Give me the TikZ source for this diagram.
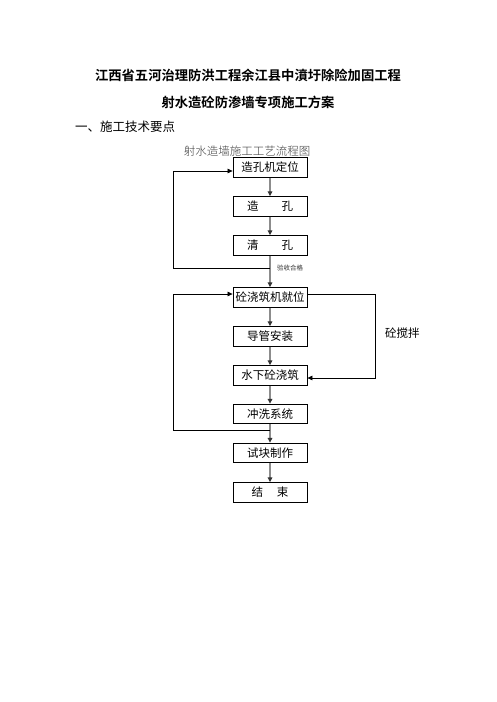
\documentclass[tikz,border=0pt]{standalone}
\usepackage{fontspec}
\newfontfamily\cjk{Noto Sans CJK SC}
\newfontfamily\cjkb{Noto Sans CJK SC Bold}
\newfontfamily\cjkl{Noto Sans CJK SC Light}
\usetikzlibrary{arrows.meta}
\begin{document}
\begin{tikzpicture}[x=1pt,y=-1pt,
  stepbox/.style={draw=black,line width=0.8pt,minimum width=74pt,minimum height=19.5pt,inner sep=0pt,font=\cjk\fontsize{11.5}{12}\selectfont},
  flow/.style={draw=gray!90,line width=1.8pt,-{Triangle[length=5pt,width=4.5pt,color=black!80]}},
  loop/.style={draw=black,line width=0.7pt},
  looparrow/.style={draw=black,line width=0.7pt,-{Triangle[length=5pt,width=4.5pt]}}]
\useasboundingbox (0,0) rectangle (496,702);
\fill[white] (0,0) rectangle (496,702);
\node[font=\cjkb\fontsize{13.3}{15}\selectfont] (t1) at (248,75) {江西省五河治理防洪工程余江县中濆圩除险加固工程};
\node[font=\cjkb\fontsize{13.3}{15}\selectfont] (t2) at (248,102) {射水造砼防渗墙专项施工方案};
\node[font=\cjk\fontsize{12.5}{14}\selectfont,anchor=west,inner sep=0pt] (t3) at (75,127) {一、施工技术要点};
\node[font=\cjkl\fontsize{11.5}{13}\selectfont,text=black!75] (cap) at (247,151) {射水造墙施工工艺流程图};
\node[stepbox] (b1) at (270,167.5) {造孔机定位};
\node[stepbox] (b2) at (270,206.5) {造\hspace{2em}孔};
\node[stepbox] (b3) at (270,245.5) {清\hspace{2em}孔};
\node[stepbox] (b4) at (270,297.5) {砼浇筑机就位};
\node[stepbox] (b5) at (270,336.5) {导管安装};
\node[stepbox] (b6) at (270,375.5) {水下砼浇筑};
\node[stepbox] (b7) at (270,414) {冲洗系统};
\node[stepbox] (b8) at (270,453) {试块制作};
\node[stepbox] (b9) at (270,492.5) {结\hspace{1.2em}束};
\coordinate (j1) at (270,268);
\coordinate (j2) at (270,430);
\coordinate (l1) at (173,268);
\coordinate (l1t) at (173,171);
\coordinate (l2) at (173,430);
\coordinate (l2t) at (173,294);
\coordinate (r1) at (375,294);
\coordinate (r2) at (375,378);
\node[font=\cjk\fontsize{6.5}{7}\selectfont,text=black!80,anchor=west,inner sep=0pt] (lab) at (277,268) {验收合格};
\node[font=\cjk\fontsize{11.5}{13}\selectfont,anchor=west,inner sep=0pt] (mix) at (385,333) {砼搅拌};
\draw[flow] (b1) -- (b2);
\draw[flow] (b2) -- (b3);
\draw[flow] (b3) -- (b4);
\draw[flow] (b4) -- (b5);
\draw[flow] (b5) -- (b6);
\draw[flow] (b6) -- (b7);
\draw[flow] (b7) -- (b8);
\draw[flow] (b8) -- (b9);
\draw[looparrow] (j1) -- (l1) -- (l1t) -- (b1.west |- l1t);
\draw[looparrow] (j2) -- (l2) -- (l2t) -- (b4.west |- l2t);
\draw[looparrow] (b4.east |- r1) -- (r1) -- (r2) -- (b6.east |- r2);
\end{tikzpicture}
\end{document}
